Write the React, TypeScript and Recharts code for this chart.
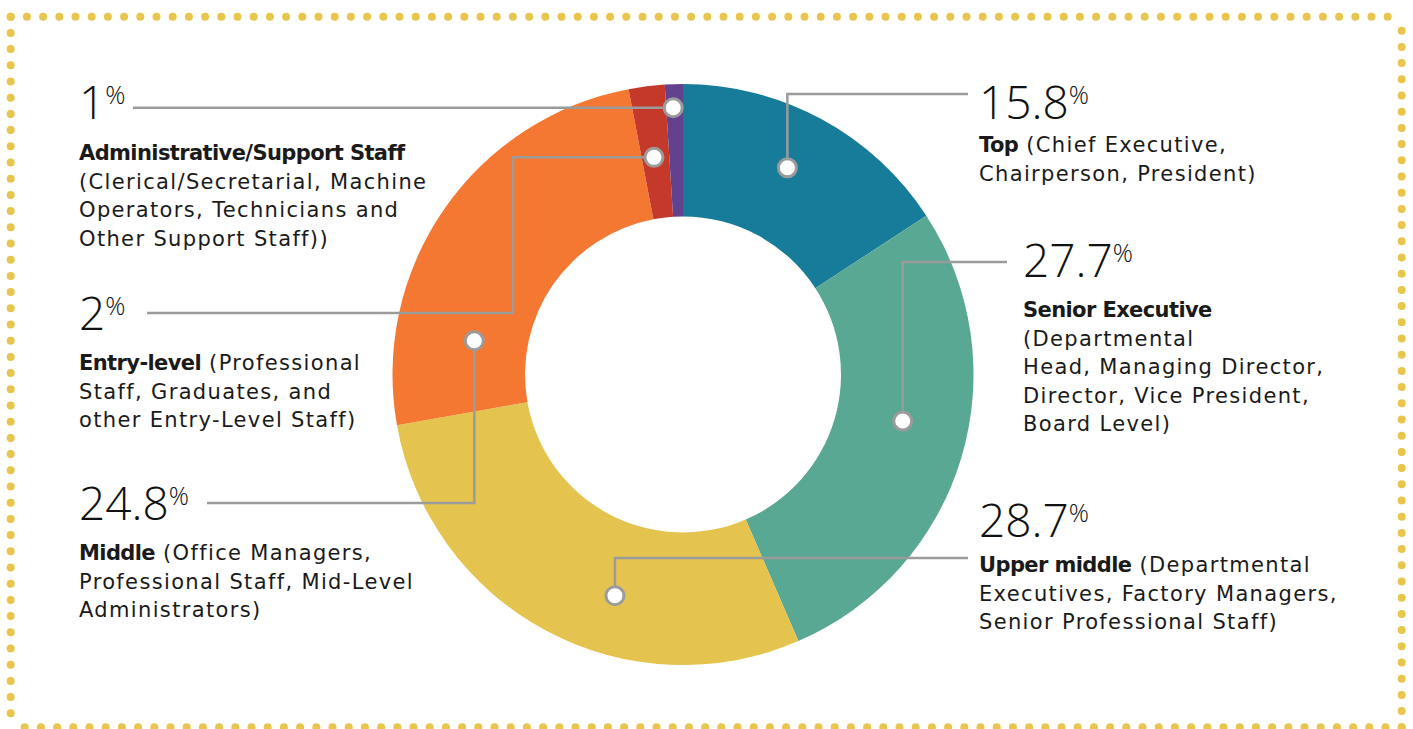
import React from "react";
import { PieChart, Pie, Cell } from "recharts";

const categories = [
  "Top",
  "Senior Executive",
  "Upper middle",
  "Middle",
  "Entry-level",
  "Administrative/Support Staff",
];
const shares = [15.8, 27.7, 28.7, 24.8, 2, 1];
const shareLabels = ["15.8", "27.7", "28.7", "24.8", "2", "1"];
const titleOnOwnLine = [false, true, false, false, false, true];
const descriptions = [
  ["(Chief Executive,", "Chairperson, President)"],
  ["(Departmental", "Head, Managing Director,", "Director, Vice President,", "Board Level)"],
  ["(Departmental", "Executives, Factory Managers,", "Senior Professional Staff)"],
  ["(Office Managers,", "Professional Staff, Mid-Level", "Administrators)"],
  ["(Professional", "Staff, Graduates, and", "other Entry-Level Staff)"],
  ["(Clerical/Secretarial, Machine", "Operators, Technicians and", "Other Support Staff))"],
];
const colors = ["#177C9A", "#58A893", "#E4C44F", "#F47732", "#C4392A", "#62418F"];

const data = categories.map((name, i) => ({ name, value: shares[i] }));

// label layout (positions only)
const layout: any[] = [
  { textX: 979, numY: 119, descY: 152, lineY: 94, lineEndX: 968, t: 0.471, r: 231.6 },
  { textX: 1023, numY: 277, descY: 317, lineY: 262, lineEndX: 1007, t: 0.452, r: 224.6 },
  { textX: 979, numY: 537, descY: 572, lineY: 558, lineEndX: 968, t: 0.392, r: 231.4 },
  { textX: 79, numY: 520, descY: 560, lineY: 503, lineEndX: 207, t: 0.216, r: 211.4 },
  { textX: 79, numY: 330, descY: 370, lineY: 313, lineEndX: 147, elbowX: 513, t: 0.444, r: 219.1 },
  { textX: 79, numY: 119, descY: 160, lineY: null, lineEndX: 133, t: 0.417, r: 267 },
];

const NUM_FONT = "'Open Sans', sans-serif";
const TXT_FONT = "'DejaVu Sans', sans-serif";
const LINE_GAP = 28.5;
const GREY = "#9B9B9B";

const renderLabel = (props: any) => {
  const { cx, cy, startAngle, endAngle, index } = props;
  const L = layout[index];
  const a = ((startAngle + L.t * (endAngle - startAngle)) * Math.PI) / 180;
  const mx = cx + L.r * Math.cos(-a);
  const my = cy + L.r * Math.sin(-a);
  const ex = L.elbowX ?? mx;
  const ly = L.lineY ?? my;
  const points = `${mx},${my} ${ex},${my} ${ex},${ly} ${L.lineEndX},${ly}`;

  const bold = { fontWeight: 700, letterSpacing: -0.6 } as any;
  const lines: React.ReactNode[] = [];
  const desc = descriptions[index];
  if (titleOnOwnLine[index]) {
    lines.push(
      <tspan key="t" {...bold}>
        {categories[index]}
      </tspan>
    );
    desc.forEach((d, k) => lines.push(<tspan key={"d" + k}>{d}</tspan>));
  } else {
    lines.push(
      <React.Fragment key="t">
        <tspan {...bold}>{categories[index]}</tspan>
        <tspan>{" " + desc[0]}</tspan>
      </React.Fragment>
    );
    desc.slice(1).forEach((d, k) => lines.push(<tspan key={"d" + k}>{d}</tspan>));
  }

  return (
    <g key={"lbl" + index}>
      <polyline points={points} fill="none" stroke={GREY} strokeWidth={2.5} />
      <circle cx={mx} cy={my} r={9} fill="#fff" stroke={GREY} strokeWidth={3} />
      <text x={L.textX} y={L.numY} fill="#111" fontFamily={NUM_FONT}>
        <tspan fontSize={46} fontWeight={300}>
          {shareLabels[index]}
        </tspan>
        <tspan fontSize={25} fontWeight={300} dy={-15}>
          %
        </tspan>
      </text>
      {lines.map((ln, k) => (
        <text
          key={k}
          x={L.textX}
          y={L.descY + k * LINE_GAP}
          fill="#1a1a1a"
          fontFamily={TXT_FONT}
          fontSize={21}
          letterSpacing={1.35}
        >
          {ln}
        </text>
      ))}
    </g>
  );
};

const DOT = "#E8C54C";

export default function App() {
  return (
    <div
      style={{
        position: "absolute",
        left: 0,
        top: 0,
        width: 1413,
        height: 729,
        background: "#fff",
        overflow: "hidden",
      }}
    >
      <svg
        width={1413}
        height={729}
        style={{ position: "absolute", left: 0, top: 0 }}
      >
        <g stroke={DOT} strokeWidth={8} strokeLinecap="round" strokeDasharray="0 16.2">
          <line x1={10.7} y1={16.7} x2={1401.7} y2={16.7} />
          <line x1={10.7} y1={16.7} x2={10.7} y2={727.3} />
          <line x1={1401.7} y1={727.3} x2={1401.7} y2={16.7} />
          <line x1={1401.7} y1={727.3} x2={10.7} y2={727.3} />
        </g>
      </svg>
      <div style={{ position: "absolute", left: 0, top: 0 }}>
        <PieChart
          width={1413}
          height={729}
          margin={{ top: 0, right: 0, bottom: 0, left: 0 }}
        >
          <Pie
            data={data}
            dataKey="value"
            nameKey="name"
            cx={683}
            cy={374.5}
            innerRadius={158}
            outerRadius={290.5}
            startAngle={90}
            endAngle={-270}
            stroke="none"
            label={renderLabel}
            labelLine={false}
            isAnimationActive={false}
          >
            {data.map((d, i) => (
              <Cell key={d.name} fill={colors[i]} />
            ))}
          </Pie>
        </PieChart>
      </div>
    </div>
  );
}
